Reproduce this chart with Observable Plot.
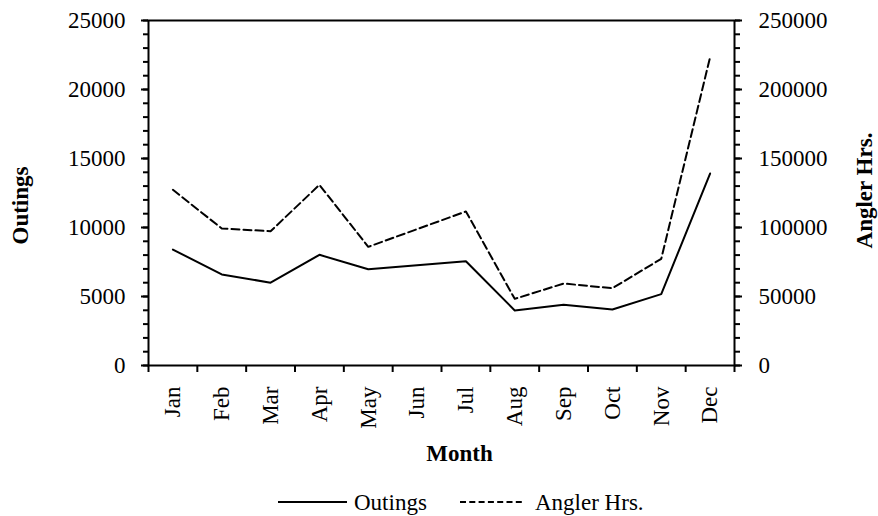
<!DOCTYPE html>
<html>
<head>
<meta charset="utf-8">
<script src="https://cdn.jsdelivr.net/npm/d3@7"></script>
<script src="https://cdn.jsdelivr.net/npm/@observablehq/plot@0.6"></script>
<style>
  body { margin: 0; background: #fff; font-family: "Liberation Serif", "Times New Roman", serif; }
  #chart svg { display: block; }
  #legend { display: block; }
</style>
</head>
<body>
<div id="chart"></div>
<svg id="legend" width="878" height="34"></svg>
<script>
// ---- data ----
const months = ["Jan", "Feb", "Mar", "Apr", "May", "Jun", "Jul", "Aug", "Sep", "Oct", "Nov", "Dec"];
const outings = [8400, 6600, 6000, 8020, 6980, 7270, 7560, 3990, 4400, 4060, 5170, 13910];
const anglerHrs = [127300, 99300, 97300, 130900, 86000, 98800, 111600, 48300, 59400, 56000, 77300, 223400];
const leftTicks = [0, 5000, 10000, 15000, 20000, 25000];
const rightTicks = [0, 50000, 100000, 150000, 200000, 250000];
const seriesNames = ["Outings", "Angler Hrs."];
const xTitle = "Month";

const ratio = 10; // right axis = left axis x 10
const data = months.map((m, i) => ({i, month: m, outings: outings[i], angler: anglerHrs[i]}));

const FS = 23;
const chart = Plot.plot({
  width: 878,
  height: 482,
  marginLeft: 148,
  marginRight: 144,
  marginTop: 20,
  marginBottom: 117,
  style: {fontFamily: "Liberation Serif, Times New Roman, serif", fontSize: FS + "px", color: "black", background: "white"},
  x: {type: "linear", domain: [-0.5, months.length - 0.5]},
  y: {type: "linear", domain: [0, 25000]},
  marks: [
    // minor ticks left
    Plot.axisY({anchor: "left", ticks: d3.range(0, 25001, 1000), tickSize: 5, strokeWidth: 2, tickFormat: () => "", label: null}),
    // major ticks left
    Plot.axisY({anchor: "left", ticks: leftTicks, tickSize: 7, strokeWidth: 2, tickPadding: 16, tickFormat: d => String(d), fontSize: FS, label: null}),
    // minor ticks right
    Plot.axisY({anchor: "right", ticks: d3.range(0, 25001, 1000), tickSize: 5, strokeWidth: 2, tickFormat: () => "", label: null}),
    // major ticks right
    Plot.axisY({anchor: "right", ticks: rightTicks.map(v => v / ratio), tickSize: 7, strokeWidth: 2, tickPadding: 17, tickFormat: d => String(Math.round(d * ratio)), fontSize: FS, label: null}),
    // category boundary ticks
    Plot.axisX({anchor: "bottom", ticks: d3.range(-0.5, months.length, 1), tickSize: 7, strokeWidth: 2, tickFormat: () => "", label: null}),
    // category labels
    Plot.axisX({anchor: "bottom", ticks: d3.range(months.length), tickSize: 0, tickPadding: 21, tickRotate: -90, tickFormat: i => months[i], fontSize: FS, label: null}),
    Plot.frame({stroke: "black", strokeWidth: 2}),
    Plot.line(data, {x: "i", y: "outings", stroke: "black", strokeWidth: 2}),
    Plot.line(data, {x: "i", y: d => d.angler / ratio, stroke: "black", strokeWidth: 2, strokeDasharray: "8,4"}),
    Plot.text([seriesNames[0]], {frameAnchor: "left", textAnchor: "middle", rotate: -90, dx: -128, dy: 12.5, fontWeight: "bold", fontSize: FS}),
    Plot.text([seriesNames[1]], {frameAnchor: "right", textAnchor: "middle", rotate: -90, dx: 130, dy: -2.5, fontWeight: "bold", fontSize: FS}),
    Plot.text([xTitle], {frameAnchor: "bottom", textAnchor: "middle", dx: 18, dy: 95.5, fontWeight: "bold", fontSize: FS})
  ]
});
document.getElementById("chart").appendChild(chart);

// legend below the plot
const lg = d3.select("#legend");
const items = [
  {name: seriesNames[0], x0: 278, x1: 347, tx: 354, dash: null},
  {name: seriesNames[1], x0: 460, x1: 525, tx: 535, dash: "6,3.3"}
];
for (const it of items) {
  lg.append("line").attr("x1", it.x0).attr("x2", it.x1).attr("y1", 20).attr("y2", 20)
    .attr("stroke", "black").attr("stroke-width", 2).attr("stroke-dasharray", it.dash);
  lg.append("text").attr("x", it.tx).attr("y", 28).attr("font-size", FS)
    .attr("font-family", "Liberation Serif, Times New Roman, serif").text(it.name);
}
</script>
</body>
</html>
